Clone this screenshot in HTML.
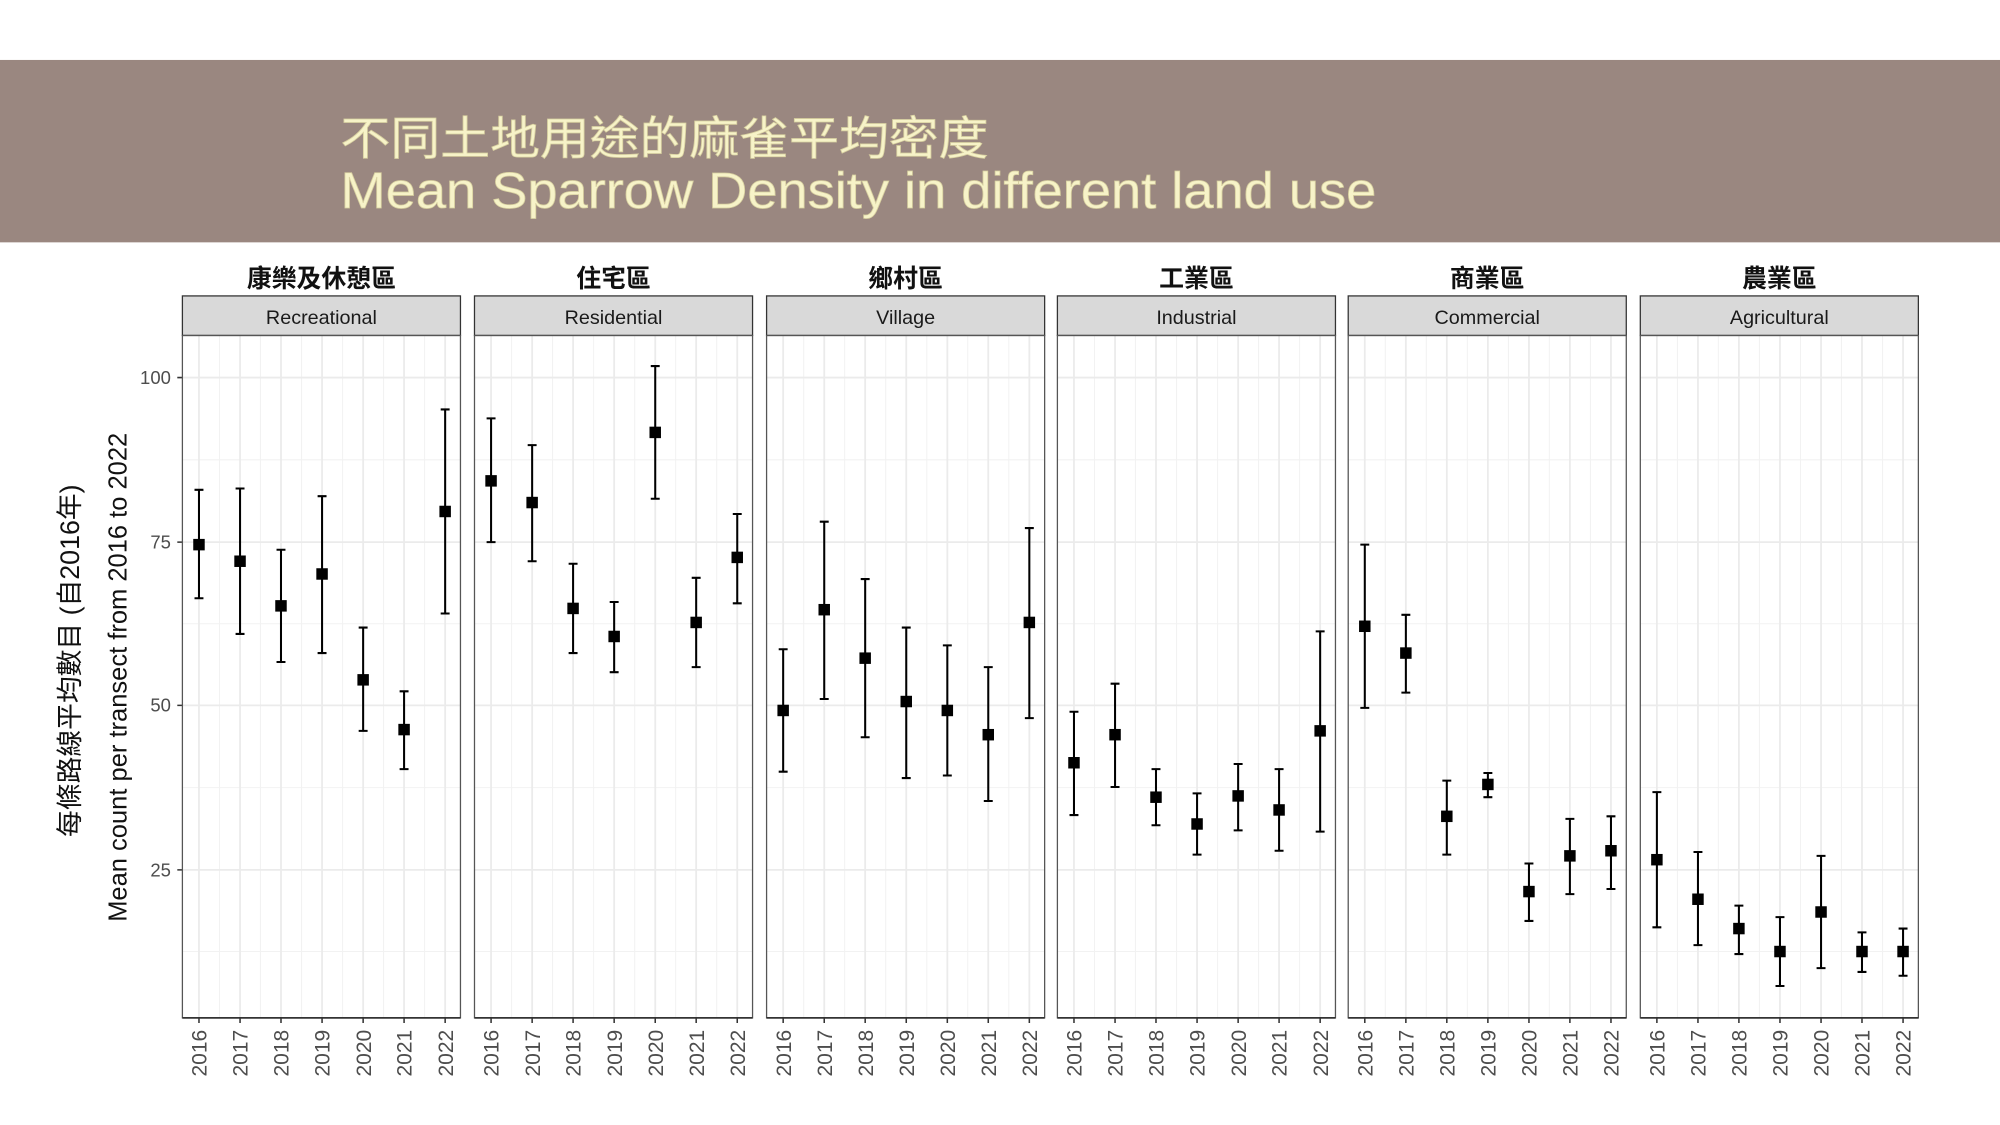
<!DOCTYPE html>
<html><head><meta charset="utf-8"><style>
html,body{margin:0;padding:0;background:#fff;}
svg{display:block;}
text{font-family:"Liberation Sans","Noto Sans CJK TC",sans-serif;}
</style></head><body>
<svg width="2000" height="1125" viewBox="0 0 1568 882" xmlns="http://www.w3.org/2000/svg">
<rect x="0" y="0" width="1568" height="882" fill="#fff"/>
<rect x="0" y="47" width="1568" height="143" fill="#9a8780"/>
<text x="267" y="121" font-size="36" fill="#f7f3c8" stroke="#d8d0a0" stroke-width="0.6" textLength="508" lengthAdjust="spacingAndGlyphs" style="font-family:'Noto Sans CJK TC',sans-serif">不同土地用途的麻雀平均密度</text>
<text x="267" y="163" font-size="40" fill="#f7f3c8" stroke="#d8d0a0" stroke-width="0.6" textLength="812" lengthAdjust="spacingAndGlyphs">Mean Sparrow Density in different land use</text>

<defs>
<g id="grid">
<rect x="0" y="263" width="218" height="535" fill="#fff"/>
<path d="M29.1 263V798M61.2 263V798M93.4 263V798M125.6 263V798M157.7 263V798M189.9 263V798M0 360.5H218M0 489H218M0 617.5H218M0 746H218" stroke="#f2f2f2" stroke-width="0.8"/>
<path d="M13 263V798M45.2 263V798M77.3 263V798M109.5 263V798M141.7 263V798M173.8 263V798M206 263V798M0 296H218M0 425H218M0 553H218M0 682H218" stroke="#ebebeb" stroke-width="1.4"/>
<rect x="0" y="232" width="218" height="31" fill="#d9d9d9" stroke="#333" stroke-width="1"/>
<rect x="0" y="263" width="218" height="535" fill="none" stroke="#555" stroke-width="1"/>
<path d="M0 798H218" stroke="#333" stroke-width="1.4"/>
<path d="M13 798v4M45.2 798v4M77.3 798v4M109.5 798v4M141.7 798v4M173.8 798v4M206 798v4" stroke="#333" stroke-width="1.2"/>
<g font-size="16.5" fill="#4d4d4d">
<text transform="translate(19,844) rotate(-90)">2016</text>
<text transform="translate(51.2,844) rotate(-90)">2017</text>
<text transform="translate(83.3,844) rotate(-90)">2018</text>
<text transform="translate(115.5,844) rotate(-90)">2019</text>
<text transform="translate(147.7,844) rotate(-90)">2020</text>
<text transform="translate(179.8,844) rotate(-90)">2021</text>
<text transform="translate(212,844) rotate(-90)">2022</text>
</g>
</g>
</defs>

<g font-size="14.5" fill="#4d4d4d" text-anchor="end">
<text x="134" y="301">100</text>
<text x="134" y="430">75</text>
<text x="134" y="558">50</text>
<text x="134" y="687">25</text>
</g>
<path d="M139 296h4M139 425h4M139 553h4M139 682h4" stroke="#333" stroke-width="1.2"/>
<text transform="translate(62,518) rotate(-90)" font-size="21" text-anchor="middle" fill="#111">每條路線平均數目 (自2016年)</text>
<text transform="translate(99,531) rotate(-90)" font-size="20" text-anchor="middle" fill="#111">Mean count per transect from 2016 to 2022</text>

<g transform="translate(143,0)">
<use href="#grid"/>
<text x="109" y="225" font-size="19.5" font-weight="bold" text-anchor="middle" fill="#111">康樂及休憩區</text>
<text x="109" y="254" font-size="15.5" text-anchor="middle" fill="#1a1a1a">Recreational</text>
<path d="M13 384V469M9.5 384h7M9.5 469h7M45.2 383V497M41.7 383h7M41.7 497h7M77.3 431V519M73.8 431h7M73.8 519h7M109.5 389V512M106 389h7M106 512h7M141.7 492V573M138.2 492h7M138.2 573h7M173.8 542V603M170.3 542h7M170.3 603h7M206 321V481M202.5 321h7M202.5 481h7" stroke="#000" stroke-width="1.6" fill="none"/>
<g fill="#000"><rect x="8.5" y="422.5" width="9" height="9"/><rect x="40.7" y="435.5" width="9" height="9"/><rect x="72.8" y="470.5" width="9" height="9"/><rect x="105" y="445.5" width="9" height="9"/><rect x="137.2" y="528.5" width="9" height="9"/><rect x="169.3" y="567.5" width="9" height="9"/><rect x="201.5" y="396.5" width="9" height="9"/></g>
</g>

<g transform="translate(372,0)">
<use href="#grid"/>
<text x="109" y="225" font-size="19.5" font-weight="bold" text-anchor="middle" fill="#111">住宅區</text>
<text x="109" y="254" font-size="15.5" text-anchor="middle" fill="#1a1a1a">Residential</text>
<path d="M13 328V425M9.5 328h7M9.5 425h7M45.2 349V440M41.7 349h7M41.7 440h7M77.3 442V512M73.8 442h7M73.8 512h7M109.5 472V527M106 472h7M106 527h7M141.7 287V391M138.2 287h7M138.2 391h7M173.8 453V523M170.3 453h7M170.3 523h7M206 403V473M202.5 403h7M202.5 473h7" stroke="#000" stroke-width="1.6" fill="none"/>
<g fill="#000"><rect x="8.5" y="372.5" width="9" height="9"/><rect x="40.7" y="389.5" width="9" height="9"/><rect x="72.8" y="472.5" width="9" height="9"/><rect x="105" y="494.5" width="9" height="9"/><rect x="137.2" y="334.5" width="9" height="9"/><rect x="169.3" y="483.5" width="9" height="9"/><rect x="201.5" y="432.5" width="9" height="9"/></g>
</g>

<g transform="translate(601,0)">
<use href="#grid"/>
<text x="109" y="225" font-size="19.5" font-weight="bold" text-anchor="middle" fill="#111">鄉村區</text>
<text x="109" y="254" font-size="15.5" text-anchor="middle" fill="#1a1a1a">Village</text>
<path d="M13 509V605M9.5 509h7M9.5 605h7M45.2 409V548M41.7 409h7M41.7 548h7M77.3 454V578M73.8 454h7M73.8 578h7M109.5 492V610M106 492h7M106 610h7M141.7 506V608M138.2 506h7M138.2 608h7M173.8 523V628M170.3 523h7M170.3 628h7M206 414V563M202.5 414h7M202.5 563h7" stroke="#000" stroke-width="1.6" fill="none"/>
<g fill="#000"><rect x="8.5" y="552.5" width="9" height="9"/><rect x="40.7" y="473.5" width="9" height="9"/><rect x="72.8" y="511.5" width="9" height="9"/><rect x="105" y="545.5" width="9" height="9"/><rect x="137.2" y="552.5" width="9" height="9"/><rect x="169.3" y="571.5" width="9" height="9"/><rect x="201.5" y="483.5" width="9" height="9"/></g>
</g>

<g transform="translate(829,0)">
<use href="#grid"/>
<text x="109" y="225" font-size="19.5" font-weight="bold" text-anchor="middle" fill="#111">工業區</text>
<text x="109" y="254" font-size="15.5" text-anchor="middle" fill="#1a1a1a">Industrial</text>
<path d="M13 558V639M9.5 558h7M9.5 639h7M45.2 536V617M41.7 536h7M41.7 617h7M77.3 603V647M73.8 603h7M73.8 647h7M109.5 622V670M106 622h7M106 670h7M141.7 599V651M138.2 599h7M138.2 651h7M173.8 603V667M170.3 603h7M170.3 667h7M206 495V652M202.5 495h7M202.5 652h7" stroke="#000" stroke-width="1.6" fill="none"/>
<g fill="#000"><rect x="8.5" y="593.5" width="9" height="9"/><rect x="40.7" y="571.5" width="9" height="9"/><rect x="72.8" y="620.5" width="9" height="9"/><rect x="105" y="641.5" width="9" height="9"/><rect x="137.2" y="619.5" width="9" height="9"/><rect x="169.3" y="630.5" width="9" height="9"/><rect x="201.5" y="568.5" width="9" height="9"/></g>
</g>

<g transform="translate(1057,0)">
<use href="#grid"/>
<text x="109" y="225" font-size="19.5" font-weight="bold" text-anchor="middle" fill="#111">商業區</text>
<text x="109" y="254" font-size="15.5" text-anchor="middle" fill="#1a1a1a">Commercial</text>
<path d="M13 427V555M9.5 427h7M9.5 555h7M45.2 482V543M41.7 482h7M41.7 543h7M77.3 612V670M73.8 612h7M73.8 670h7M109.5 606V625M106 606h7M106 625h7M141.7 677V722M138.2 677h7M138.2 722h7M173.8 642V701M170.3 642h7M170.3 701h7M206 640V697M202.5 640h7M202.5 697h7" stroke="#000" stroke-width="1.6" fill="none"/>
<g fill="#000"><rect x="8.5" y="486.5" width="9" height="9"/><rect x="40.7" y="507.5" width="9" height="9"/><rect x="72.8" y="635.5" width="9" height="9"/><rect x="105" y="610.5" width="9" height="9"/><rect x="137.2" y="694.5" width="9" height="9"/><rect x="169.3" y="666.5" width="9" height="9"/><rect x="201.5" y="662.5" width="9" height="9"/></g>
</g>

<g transform="translate(1286,0)">
<use href="#grid"/>
<text x="109" y="225" font-size="19.5" font-weight="bold" text-anchor="middle" fill="#111">農業區</text>
<text x="109" y="254" font-size="15.5" text-anchor="middle" fill="#1a1a1a">Agricultural</text>
<path d="M13 621V727M9.5 621h7M9.5 727h7M45.2 668V741M41.7 668h7M41.7 741h7M77.3 710V748M73.8 710h7M73.8 748h7M109.5 719V773M106 719h7M106 773h7M141.7 671V759M138.2 671h7M138.2 759h7M173.8 731V762M170.3 731h7M170.3 762h7M206 728V765M202.5 728h7M202.5 765h7" stroke="#000" stroke-width="1.6" fill="none"/>
<g fill="#000"><rect x="8.5" y="669.5" width="9" height="9"/><rect x="40.7" y="700.5" width="9" height="9"/><rect x="72.8" y="723.5" width="9" height="9"/><rect x="105" y="741.5" width="9" height="9"/><rect x="137.2" y="710.5" width="9" height="9"/><rect x="169.3" y="741.5" width="9" height="9"/><rect x="201.5" y="741.5" width="9" height="9"/></g>
</g>
</svg>
</body></html>
